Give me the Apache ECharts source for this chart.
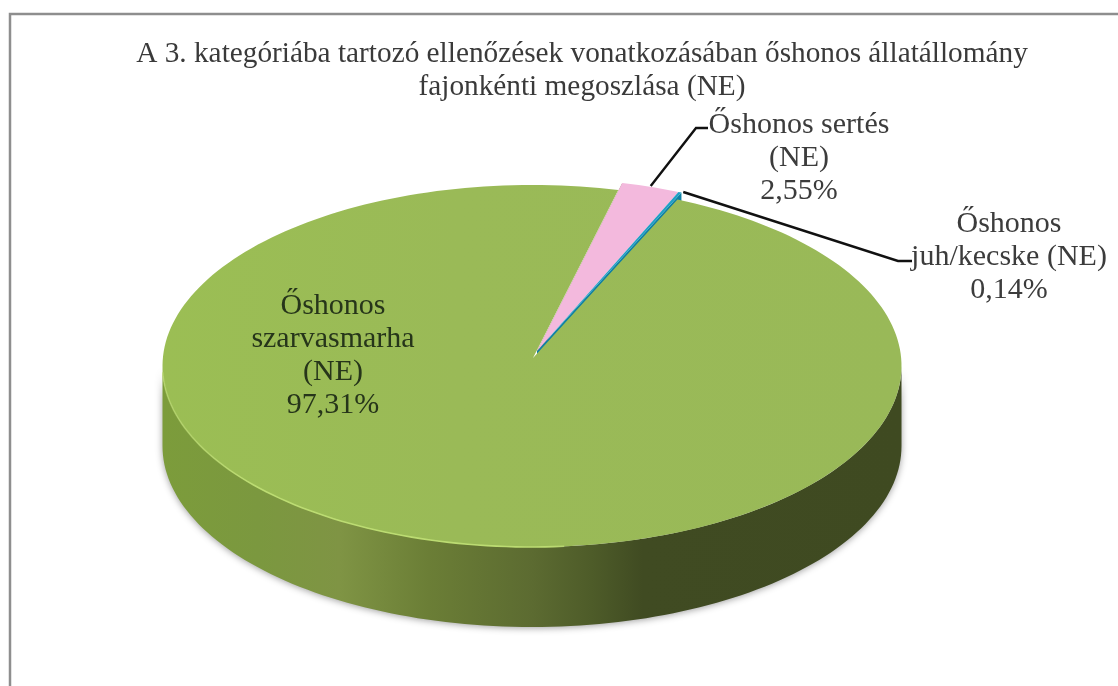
<!DOCTYPE html>
<html>
<head>
<meta charset="utf-8">
<title>Őshonos állatállomány</title>
<script src="https://cdn.jsdelivr.net/npm/echarts@6/dist/echarts.min.js"></script>
<style>
    html, body { margin: 0; padding: 0; background: #fff; }
    #chart { width: 1118px; height: 686px; }
</style>
</head>
<body>
<div id="chart"></div>
<script>
const titleText = 'A 3. kategóriába tartozó ellenőzések vonatkozásában őshonos állatállomány\nfajonkénti megoszlása (NE)';
const sliceNames = ['Őshonos sertés\n(NE)', 'Őshonos\njuh/kecske (NE)', 'Őshonos\nszarvasmarha\n(NE)'];
const sliceValues = [2.55, 0.14, 97.31];

// Pie geometry
const cx = 532, cy = 366, rx = 369.5, ry = 181, depth = 80;
const startAngle = 13.5;
const apex = [533, 358];
const topColors = ['#f3b9dd', '#1f9fc4', '#9bbb59'];
const wallColors = ['#a08672', '#0f7fa3', null];
const explode = [[4, -7], [4, -7], [0, 0]];
const labelPos = [[799, 158], [1009, 257], [333, 356]];
const labelColors = ['#3c3c3c', '#3c3c3c', '#26351a'];
// label elbows: where the leader leaves the text, then the knee
const leaders = [[[708, 128], [696, 128]], [[912, 261], [898, 261]], null];

const total = sliceValues.reduce((a, b) => a + b, 0);
const bounds = [];
sliceValues.reduce((acc, v) => {
    const end = acc + v / total * 360;
    bounds.push([acc, end]);
    return end;
}, startAngle);

function rimPoint(deg, dx, dy) {
    const t = deg * Math.PI / 180;
    return [cx + dx + rx * Math.sin(t), cy + dy - ry * Math.cos(t)];
}

function arcPoints(from, to, dx, dy) {
    const pts = [];
    const n = Math.max(2, Math.ceil((to - from) / 1.5));
    for (let i = 0; i <= n; i++) {
        pts.push(rimPoint(from + (to - from) * i / n, dx, dy));
    }
    return pts;
}

function percentText(v) {
    return v.toFixed(2).replace('.', ',') + '%';
}

function wallGradient() {
    return new echarts.graphic.LinearGradient(0, 0, 1, 0, [
        { offset: 0, color: '#7c9c3b' },
        { offset: 0.13, color: '#7b983f' },
        { offset: 0.24, color: '#7f9444' },
        { offset: 0.36, color: '#6b7e36' },
        { offset: 0.5, color: '#5c6b31' },
        { offset: 0.58, color: '#4e5c29' },
        { offset: 0.65, color: '#404b22' },
        { offset: 1, color: '#3f4a21' }
    ]);
}

// Side walls go first so the tops sit over them
function renderWall(params, api) {
    const i = params.dataIndex;
    const [from, to] = bounds[i];
    const [dx, dy] = explode[i];
    const children = [];
    if (wallColors[i]) {
        // radial wall, only shows in the small notch left by the pulled slices
        const a = [apex[0] + dx, apex[1] + dy];
        const e = rimPoint(i === 0 ? from : to, dx, dy);
        children.push({
            type: 'polygon',
            shape: { points: [a, e, [e[0], e[1] + 10], [a[0], a[1] + 10]] },
            style: { fill: wallColors[i] }
        });
    }
    const a0 = Math.max(from, 90), a1 = Math.min(to, 270);
    if (a1 > a0) {
        const upper = arcPoints(a0, a1, dx, dy);
        const lower = arcPoints(a0, a1, dx, dy + depth).reverse();
        children.push({
            type: 'polygon',
            shape: { points: upper.concat(lower) },
            style: {
                fill: wallGradient(),
                shadowBlur: 7,
                shadowColor: 'rgba(40,40,40,0.45)',
                shadowOffsetY: 1
            }
        });
    }
    return { type: 'group', children: children };
}

function renderTop(params, api) {
    const i = params.dataIndex;
    const [from, to] = bounds[i];
    const [dx, dy] = explode[i];
    const a = [apex[0] + dx, apex[1] + dy];
    const children = [{
        type: 'polygon',
        shape: { points: [a].concat(arcPoints(from, to, dx, dy)) },
        style: {
            fill: i === 2 ? new echarts.graphic.LinearGradient(0, 0, 1, 0, [
                { offset: 0, color: '#9bbe54' },
                { offset: 0.4, color: '#9aba57' },
                { offset: 1, color: '#99b958' }
            ]) : topColors[i]
        }
    }];
    if (i === 2) {
        // light bevel along the front-left rim
        children.push({
            type: 'polyline',
            shape: { points: arcPoints(175, 268, 0, 0) },
            style: {
                fill: null,
                lineWidth: 1.6,
                stroke: new echarts.graphic.LinearGradient(0, 1, 1, 0, [
                    { offset: 0, color: 'rgba(190,222,112,0)' },
                    { offset: 0.25, color: '#bcdc72' },
                    { offset: 0.8, color: '#bcdc72' },
                    { offset: 1, color: 'rgba(190,222,112,0)' }
                ])
            }
        });
    }
    if (leaders[i]) {
        const mid = rimPoint(i === 1 ? to + 0.3 : (from + to) / 2, dx, dy - 1);
        children.push({
            type: 'polyline',
            shape: { points: [mid, leaders[i][1], leaders[i][0]] },
            style: { fill: null, stroke: '#111', lineWidth: 2.4 }
        });
    }
    children.push({
        type: 'text',
        x: labelPos[i][0],
        y: labelPos[i][1],
        style: {
            text: sliceNames[i] + '\n' + percentText(api.value(0)),
            font: '30px "Liberation Serif", serif',
            lineHeight: 33,
            fill: labelColors[i],
            align: 'center',
            verticalAlign: 'middle'
        }
    });
    return { type: 'group', children: children };
}

const chart = echarts.init(document.getElementById('chart'), null, { renderer: 'canvas' });
chart.setOption({
    animation: false,
    backgroundColor: '#fff',
    title: {
        text: titleText,
        left: 577,
        top: 33,
        textAlign: 'center',
        textStyle: {
            fontFamily: '"Liberation Serif", serif',
            fontSize: 29.3,
            fontWeight: 'normal',
            color: '#3a3a3a',
            lineHeight: 33
        }
    },
    graphic: [
        // the frame is cut on the right and at the bottom of the picture
        { type: 'polyline', shape: { points: [[10, 686], [10, 14], [1118, 14]] },
          style: { fill: null, stroke: '#8e8e8e', lineWidth: 2.5 } }
    ],
    series: [
        { type: 'custom', coordinateSystem: 'none', z: 1, data: sliceValues, renderItem: renderWall, silent: true },
        { type: 'custom', coordinateSystem: 'none', z: 2, data: sliceValues, renderItem: renderTop, silent: true }
    ]
});
</script>
</body>
</html>
